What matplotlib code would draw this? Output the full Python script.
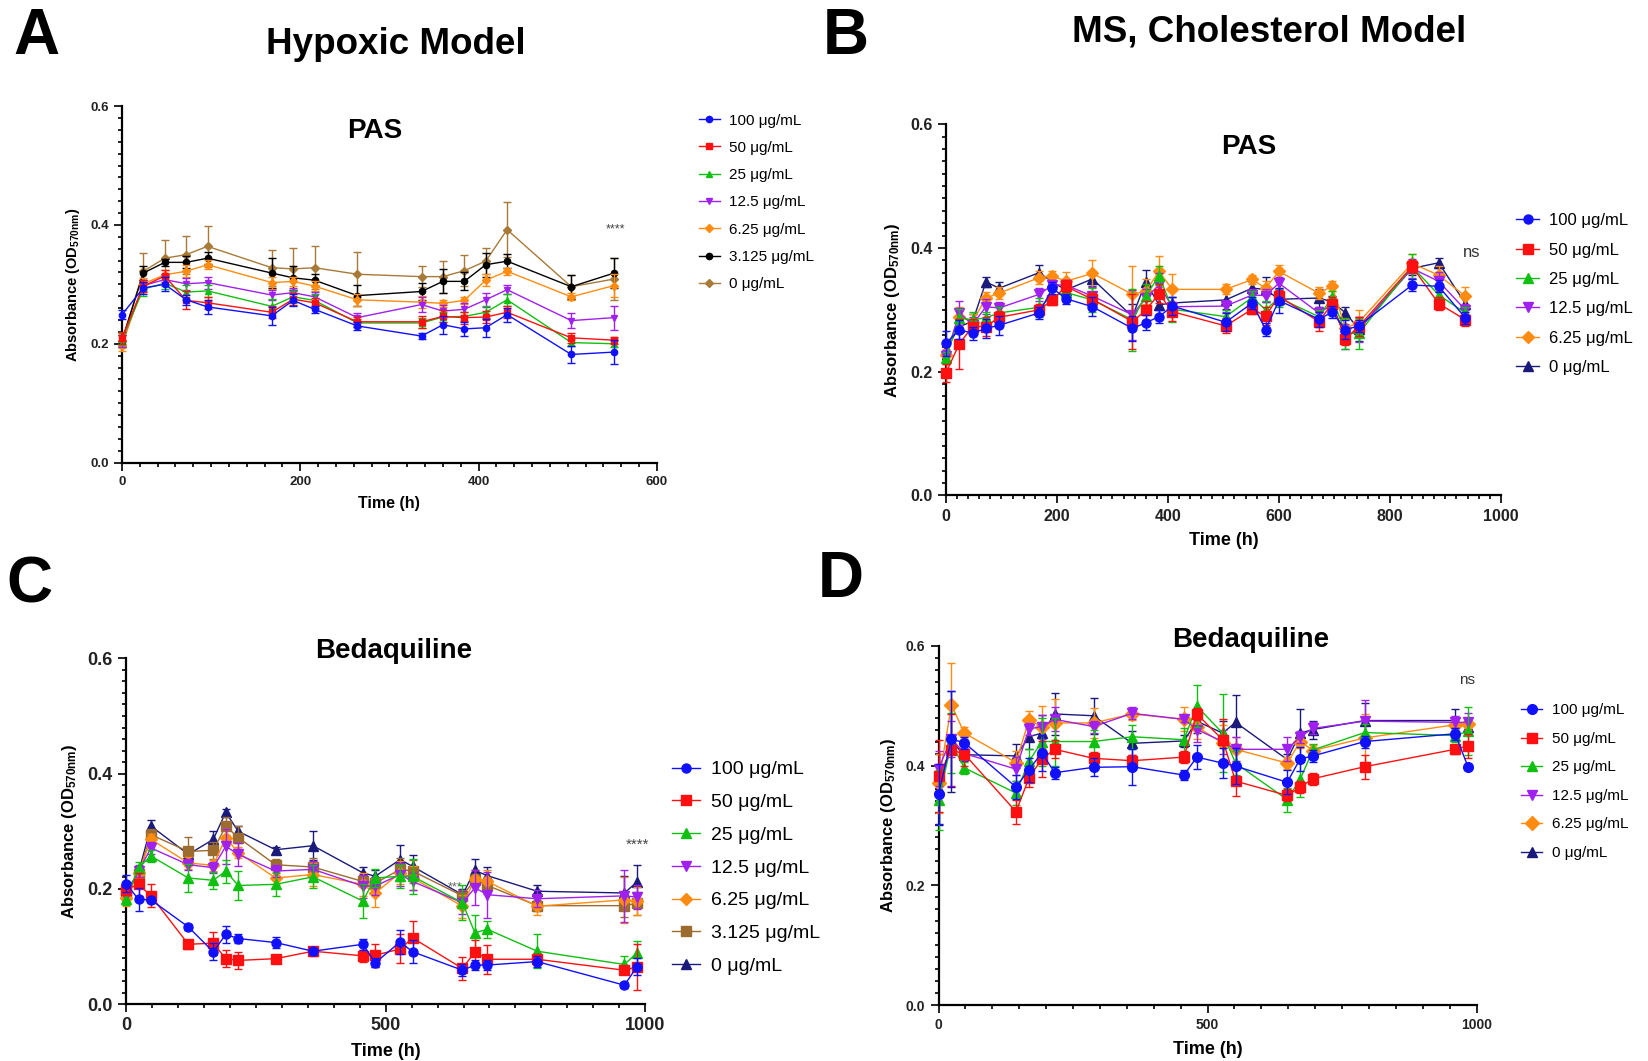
import matplotlib
matplotlib.use("Agg")
import matplotlib.pyplot as plt
from matplotlib.lines import Line2D
from matplotlib.ticker import MultipleLocator

plt.rcParams["font.family"] = ["Liberation Sans", "DejaVu Sans"]
plt.rcParams["mathtext.fontset"] = "custom"
plt.rcParams["mathtext.rm"] = "Liberation Sans:bold"
plt.rcParams["mathtext.default"] = "rm"

# ---- Panel A: hypoxic model, PAS ----
a_time = [0, 24, 48, 72, 96, 168, 192, 216, 264, 336, 360, 384, 408, 432, 504, 552]
a_100 = [0.249, 0.294, 0.300, 0.274, 0.262, 0.247, 0.273, 0.258, 0.230, 0.213, 0.232, 0.225, 0.227, 0.249, 0.182, 0.186]
a_50 = [0.210, 0.297, 0.314, 0.273, 0.269, 0.253, 0.275, 0.269, 0.237, 0.237, 0.246, 0.244, 0.245, 0.253, 0.210, 0.206]
a_25 = [0.208, 0.292, 0.302, 0.287, 0.289, 0.263, 0.279, 0.273, 0.235, 0.235, 0.245, 0.246, 0.253, 0.274, 0.202, 0.200]
a_12_5 = [0.205, 0.298, 0.308, 0.301, 0.303, 0.282, 0.286, 0.279, 0.244, 0.266, 0.255, 0.258, 0.274, 0.291, 0.239, 0.244]
a_6_25 = [0.197, 0.301, 0.316, 0.322, 0.333, 0.303, 0.305, 0.297, 0.274, 0.270, 0.268, 0.273, 0.307, 0.322, 0.279, 0.298]
a_3_125 = [0.205, 0.319, 0.337, 0.337, 0.344, 0.319, 0.311, 0.307, 0.281, 0.288, 0.305, 0.305, 0.333, 0.339, 0.296, 0.319]
a_0 = [0.205, 0.322, 0.344, 0.350, 0.364, 0.328, 0.326, 0.328, 0.317, 0.313, 0.313, 0.323, 0.339, 0.392, 0.296, 0.309]
a_100_e = [0.008, 0.01, 0.012, 0.008, 0.012, 0.015, 0.01, 0.006, 0.006, 0.005, 0.015, 0.012, 0.015, 0.012, 0.015, 0.02]
a_50_e = [0.01, 0.01, 0.01, 0.015, 0.01, 0.01, 0.01, 0.008, 0.008, 0.01, 0.01, 0.01, 0.01, 0.01, 0.008, 0.006]
a_25_e = [0.01, 0.012, 0.01, 0.012, 0.01, 0.012, 0.01, 0.01, 0.006, 0.008, 0.008, 0.008, 0.01, 0.01, 0.006, 0.006]
a_12_5_e = [0.01, 0.01, 0.01, 0.01, 0.01, 0.008, 0.008, 0.008, 0.008, 0.012, 0.01, 0.01, 0.012, 0.008, 0.012, 0.02]
a_6_25_e = [0.01, 0.01, 0.008, 0.01, 0.008, 0.01, 0.008, 0.008, 0.01, 0.01, 0.006, 0.006, 0.01, 0.006, 0.006, 0.02]
a_3_125_e = [0.01, 0.012, 0.006, 0.01, 0.01, 0.025, 0.02, 0.01, 0.018, 0.015, 0.02, 0.015, 0.02, 0.012, 0.02, 0.025]
a_0_e = [0.01, 0.03, 0.03, 0.032, 0.035, 0.03, 0.035, 0.036, 0.038, 0.018, 0.027, 0.026, 0.022, 0.046, 0.02, 0.035]

# ---- Panel B: MS cholesterol model, PAS ----
b_time = [0, 24, 48, 72, 96, 168, 192, 216, 264, 336, 360, 384, 408, 504, 552, 576, 600, 672, 696, 720, 744, 840, 888, 936]
b_100 = [0.246, 0.268, 0.262, 0.270, 0.275, 0.295, 0.335, 0.318, 0.305, 0.270, 0.279, 0.289, 0.306, 0.280, 0.311, 0.268, 0.315, 0.285, 0.296, 0.268, 0.274, 0.340, 0.338, 0.287]
b_50 = [0.198, 0.245, 0.273, 0.273, 0.288, 0.300, 0.316, 0.338, 0.317, 0.281, 0.299, 0.326, 0.297, 0.274, 0.301, 0.290, 0.322, 0.281, 0.310, 0.253, 0.273, 0.370, 0.310, 0.284]
b_25 = [0.222, 0.287, 0.284, 0.287, 0.295, 0.304, 0.322, 0.328, 0.316, 0.284, 0.322, 0.355, 0.301, 0.289, 0.320, 0.300, 0.319, 0.289, 0.320, 0.262, 0.262, 0.370, 0.324, 0.295]
b_12_5 = [0.225, 0.295, 0.276, 0.305, 0.303, 0.325, 0.340, 0.340, 0.322, 0.292, 0.319, 0.340, 0.305, 0.306, 0.324, 0.323, 0.343, 0.295, 0.308, 0.257, 0.268, 0.367, 0.346, 0.300]
b_6_25 = [0.227, 0.289, 0.281, 0.319, 0.327, 0.352, 0.355, 0.346, 0.359, 0.325, 0.330, 0.362, 0.333, 0.333, 0.349, 0.335, 0.362, 0.327, 0.338, 0.270, 0.280, 0.375, 0.356, 0.322]
b_0 = [0.235, 0.273, 0.281, 0.345, 0.335, 0.360, 0.345, 0.332, 0.350, 0.289, 0.345, 0.308, 0.311, 0.316, 0.335, 0.333, 0.317, 0.319, 0.313, 0.295, 0.269, 0.367, 0.376, 0.310]
b_100_e = [0.02, 0.015, 0.01, 0.015, 0.015, 0.01, 0.01, 0.008, 0.015, 0.02, 0.012, 0.01, 0.015, 0.015, 0.01, 0.01, 0.02, 0.012, 0.01, 0.015, 0.01, 0.01, 0.01, 0.01]
b_50_e = [0.015, 0.04, 0.012, 0.015, 0.01, 0.01, 0.008, 0.01, 0.012, 0.045, 0.015, 0.015, 0.015, 0.012, 0.008, 0.015, 0.01, 0.015, 0.01, 0.01, 0.015, 0.01, 0.01, 0.01]
b_25_e = [0.01, 0.015, 0.012, 0.01, 0.01, 0.015, 0.01, 0.01, 0.02, 0.05, 0.02, 0.015, 0.02, 0.01, 0.01, 0.015, 0.015, 0.01, 0.01, 0.025, 0.025, 0.02, 0.012, 0.01]
b_12_5_e = [0.01, 0.02, 0.012, 0.012, 0.01, 0.01, 0.008, 0.008, 0.015, 0.04, 0.015, 0.02, 0.015, 0.01, 0.01, 0.01, 0.01, 0.01, 0.01, 0.02, 0.02, 0.015, 0.015, 0.01]
b_6_25_e = [0.01, 0.015, 0.012, 0.01, 0.01, 0.01, 0.008, 0.015, 0.022, 0.045, 0.02, 0.025, 0.025, 0.008, 0.008, 0.012, 0.01, 0.01, 0.008, 0.015, 0.02, 0.015, 0.015, 0.015]
b_0_e = [0.01, 0.01, 0.012, 0.008, 0.01, 0.012, 0.01, 0.01, 0.012, 0.02, 0.02, 0.02, 0.02, 0.015, 0.01, 0.02, 0.01, 0.015, 0.01, 0.01, 0.02, 0.01, 0.008, 0.01]

# ---- Panel C: hypoxic model, bedaquiline ----
c_time = [0, 24, 48, 120, 168, 192, 216, 288, 360, 456, 480, 528, 552, 648, 672, 696, 792, 960, 984]
c_100 = [0.209, 0.182, 0.181, 0.134, 0.091, 0.121, 0.114, 0.107, 0.092, 0.104, 0.072, 0.108, 0.091, 0.059, 0.068, 0.068, 0.074, 0.033, 0.065]
c_50 = [0.199, 0.208, 0.188, 0.104, 0.106, 0.079, 0.076, 0.079, 0.092, 0.084, 0.085, 0.096, 0.115, 0.062, 0.091, 0.078, 0.078, 0.059, 0.065]
c_25 = [0.182, 0.237, 0.257, 0.219, 0.215, 0.231, 0.206, 0.208, 0.221, 0.179, 0.219, 0.222, 0.222, 0.176, 0.124, 0.130, 0.092, 0.069, 0.089]
c_12_5 = [0.188, 0.231, 0.271, 0.242, 0.237, 0.274, 0.260, 0.231, 0.234, 0.205, 0.205, 0.225, 0.213, 0.176, 0.202, 0.190, 0.183, 0.188, 0.186]
c_6_25 = [0.185, 0.228, 0.286, 0.245, 0.241, 0.289, 0.263, 0.219, 0.225, 0.208, 0.193, 0.228, 0.219, 0.170, 0.218, 0.213, 0.170, 0.181, 0.179]
c_3_125 = [0.193, 0.226, 0.294, 0.265, 0.267, 0.309, 0.289, 0.242, 0.238, 0.213, 0.210, 0.234, 0.231, 0.188, 0.216, 0.206, 0.171, 0.171, 0.175]
c_0 = [0.196, 0.228, 0.309, 0.260, 0.286, 0.333, 0.300, 0.268, 0.275, 0.228, 0.222, 0.251, 0.239, 0.190, 0.232, 0.223, 0.196, 0.193, 0.212]
c_100_e = [0.015, 0.02, 0.005, 0.005, 0.015, 0.015, 0.008, 0.01, 0.006, 0.01, 0.008, 0.02, 0.02, 0.01, 0.008, 0.008, 0.01, 0.005, 0.015]
c_50_e = [0.01, 0.02, 0.02, 0.008, 0.02, 0.015, 0.015, 0.005, 0.008, 0.01, 0.02, 0.025, 0.03, 0.02, 0.02, 0.025, 0.01, 0.005, 0.04]
c_25_e = [0.01, 0.01, 0.01, 0.025, 0.015, 0.02, 0.025, 0.02, 0.02, 0.03, 0.015, 0.02, 0.03, 0.03, 0.03, 0.015, 0.03, 0.015, 0.02]
c_12_5_e = [0.01, 0.01, 0.01, 0.01, 0.01, 0.03, 0.02, 0.01, 0.015, 0.02, 0.015, 0.02, 0.015, 0.02, 0.03, 0.04, 0.015, 0.045, 0.02]
c_6_25_e = [0.015, 0.01, 0.01, 0.01, 0.01, 0.015, 0.01, 0.01, 0.02, 0.02, 0.025, 0.02, 0.02, 0.02, 0.015, 0.02, 0.015, 0.04, 0.025]
c_3_125_e = [0.01, 0.01, 0.01, 0.025, 0.015, 0.015, 0.02, 0.01, 0.015, 0.01, 0.01, 0.02, 0.02, 0.01, 0.01, 0.015, 0.01, 0.02, 0.02]
c_0_e = [0.01, 0.01, 0.01, 0.01, 0.015, 0.005, 0.01, 0.005, 0.025, 0.01, 0.01, 0.025, 0.02, 0.01, 0.02, 0.015, 0.01, 0.03, 0.03]

# ---- Panel D: MS cholesterol model, bedaquiline ----
d_time = [0, 24, 48, 144, 168, 192, 216, 288, 360, 456, 480, 528, 552, 648, 672, 696, 792, 960, 984]
d_100 = [0.353, 0.444, 0.438, 0.364, 0.393, 0.421, 0.388, 0.397, 0.398, 0.384, 0.414, 0.404, 0.399, 0.372, 0.411, 0.416, 0.440, 0.453, 0.398]
d_50 = [0.382, 0.426, 0.419, 0.323, 0.379, 0.411, 0.427, 0.412, 0.408, 0.414, 0.486, 0.443, 0.374, 0.350, 0.364, 0.378, 0.398, 0.427, 0.433]
d_25 = [0.343, 0.437, 0.396, 0.354, 0.407, 0.440, 0.440, 0.440, 0.448, 0.443, 0.499, 0.454, 0.404, 0.343, 0.377, 0.426, 0.455, 0.450, 0.457]
d_12_5 = [0.395, 0.445, 0.420, 0.394, 0.461, 0.465, 0.477, 0.465, 0.487, 0.477, 0.460, 0.440, 0.427, 0.427, 0.448, 0.462, 0.474, 0.472, 0.472]
d_6_25 = [0.370, 0.501, 0.454, 0.405, 0.476, 0.465, 0.471, 0.471, 0.486, 0.477, 0.465, 0.437, 0.427, 0.404, 0.440, 0.425, 0.446, 0.468, 0.470]
d_0 = [0.360, 0.440, 0.418, 0.416, 0.448, 0.454, 0.486, 0.483, 0.437, 0.441, 0.474, 0.454, 0.472, 0.410, 0.454, 0.460, 0.475, 0.475, 0.465]
d_100_e = [0.05, 0.08, 0.01, 0.02, 0.02, 0.03, 0.01, 0.015, 0.03, 0.008, 0.02, 0.025, 0.03, 0.02, 0.02, 0.01, 0.01, 0.01, 0.005]
d_50_e = [0.06, 0.06, 0.02, 0.02, 0.015, 0.03, 0.015, 0.01, 0.01, 0.01, 0.01, 0.035, 0.025, 0.01, 0.01, 0.01, 0.02, 0.008, 0.02]
d_25_e = [0.05, 0.05, 0.01, 0.02, 0.02, 0.04, 0.04, 0.02, 0.02, 0.02, 0.035, 0.065, 0.02, 0.02, 0.03, 0.01, 0.015, 0.01, 0.04]
d_12_5_e = [0.03, 0.03, 0.01, 0.02, 0.01, 0.02, 0.02, 0.01, 0.01, 0.005, 0.02, 0.02, 0.02, 0.02, 0.01, 0.01, 0.035, 0.01, 0.015]
d_6_25_e = [0.05, 0.07, 0.01, 0.02, 0.015, 0.035, 0.04, 0.025, 0.01, 0.02, 0.02, 0.03, 0.02, 0.01, 0.01, 0.01, 0.04, 0.01, 0.01]
d_0_e = [0.06, 0.085, 0.01, 0.02, 0.02, 0.03, 0.035, 0.03, 0.02, 0.01, 0.02, 0.02, 0.045, 0.01, 0.04, 0.015, 0.03, 0.02, 0.01]

labels_7 = ["100 μg/mL", "50 μg/mL", "25 μg/mL", "12.5 μg/mL", "6.25 μg/mL", "3.125 μg/mL", "0 μg/mL"]
labels_6 = ["100 μg/mL", "50 μg/mL", "25 μg/mL", "12.5 μg/mL", "6.25 μg/mL", "0 μg/mL"]

BLUE, RED, GREEN, VIOLET, ORANGE = "#1010FF", "#FF1010", "#10C010", "#A020F0", "#FF8C10"
NAVY = "#1A1A7A"


def panel(ax, t, ys, es, colors, markers, labels, ms, xmax, xmajor, xminor,
          tick_fs, lab_fs, leg_fs, leg_pos, leg_sp):
    handles = []
    for i in range(len(ys)):
        ax.errorbar(t, ys[i], yerr=es[i], color=colors[i], marker=markers[i],
                    ms=ms, lw=1.0, elinewidth=1.0, capsize=3, capthick=1.0,
                    zorder=10 - i, clip_on=False)
        handles.append(Line2D([], [], color=colors[i], marker=markers[i],
                              ms=ms, lw=1.0, label=labels[i]))
    ax.set_xlim(0, xmax)
    ax.set_ylim(0, 0.6)
    ax.xaxis.set_major_locator(MultipleLocator(xmajor))
    ax.xaxis.set_minor_locator(MultipleLocator(xminor))
    ax.yaxis.set_major_locator(MultipleLocator(0.2))
    ax.yaxis.set_minor_locator(MultipleLocator(0.02))
    ax.yaxis.set_major_formatter(plt.FuncFormatter(lambda v, p: f"{v:.1f}"))
    for s in ["top", "right"]:
        ax.spines[s].set_visible(False)
    for s in ["left", "bottom"]:
        ax.spines[s].set_linewidth(1.6)
    ax.tick_params(which="major", length=6, width=1.4, labelsize=tick_fs, colors="#222222")
    ax.tick_params(which="minor", length=3, width=1.2)
    for lab in ax.get_xticklabels() + ax.get_yticklabels():
        lab.set_fontweight("bold")
    ax.set_xlabel("Time (h)", fontsize=lab_fs, fontweight="bold", labelpad=6)
    ax.set_ylabel("Absorbance (OD$_{570nm}$)", fontsize=lab_fs - 1, fontweight="bold", labelpad=6)
    ax.figure.legend(handles=handles, loc="upper left", bbox_to_anchor=leg_pos,
                     frameon=False, fontsize=leg_fs, labelspacing=leg_sp,
                     handlelength=1.4, handletextpad=0.6, borderpad=0, borderaxespad=0)


fig = plt.figure(figsize=(16.48, 10.61), dpi=100)

axA = fig.add_axes([0.074, 0.564, 0.3246, 0.336])
panel(axA, a_time, [a_100, a_50, a_25, a_12_5, a_6_25, a_3_125, a_0],
      [a_100_e, a_50_e, a_25_e, a_12_5_e, a_6_25_e, a_3_125_e, a_0_e],
      [BLUE, RED, GREEN, VIOLET, ORANGE, "#000000", "#A87A38"],
      ["o", "s", "^", "v", "D", "o", "D"], labels_7, 4.5, 600, 200, 20,
      9.5, 11.5, 11, (0.424, 0.893), 0.87)
axA.text(554, 0.393, "****", fontsize=9, color="#444444", ha="center", va="center")

axB = fig.add_axes([0.574, 0.533, 0.3367, 0.350])
panel(axB, b_time, [b_100, b_50, b_25, b_12_5, b_6_25, b_0],
      [b_100_e, b_50_e, b_25_e, b_12_5_e, b_6_25_e, b_0_e],
      [BLUE, RED, GREEN, VIOLET, ORANGE, NAVY],
      ["o", "s", "^", "v", "D", "^"], labels_6, 6.5, 1000, 200, 20,
      11.5, 13, 12, (0.920, 0.799), 0.86)
axB.text(947, 0.393, "ns", fontsize=12, color="#333333", ha="center", va="center")

axC = fig.add_axes([0.0765, 0.0535, 0.315, 0.326])
panel(axC, c_time, [c_100, c_50, c_25, c_12_5, c_6_25, c_3_125, c_0],
      [c_100_e, c_50_e, c_25_e, c_12_5_e, c_6_25_e, c_3_125_e, c_0_e],
      [BLUE, RED, GREEN, VIOLET, ORANGE, "#9C6B30", NAVY],
      ["o", "s", "^", "v", "D", "s", "^"], labels_7, 6.5, 1000, 500, 50,
      13, 13, 14, (0.408, 0.283), 0.78)
axC.text(986, 0.277, "****", fontsize=11, color="#444444", ha="center", va="center")
axC.text(634, 0.202, "***", fontsize=9, color="#666666", ha="center", va="center", zorder=0)

axD = fig.add_axes([0.5695, 0.0525, 0.3265, 0.339])
panel(axD, d_time, [d_100, d_50, d_25, d_12_5, d_6_25, d_0],
      [d_100_e, d_50_e, d_25_e, d_12_5_e, d_6_25_e, d_0_e],
      [BLUE, RED, GREEN, VIOLET, ORANGE, NAVY],
      ["o", "s", "^", "v", "D", "^"], labels_6, 7, 1000, 500, 50,
      10, 13, 11, (0.923, 0.337), 0.95)
axD.text(982, 0.542, "ns", fontsize=11, color="#333333", ha="center", va="center")

# panel letters, model titles and drug titles
fig.text(0.022, 0.965, "A", fontsize=46, fontweight="bold", ha="center", va="center")
fig.text(0.513, 0.965, "B", fontsize=46, fontweight="bold", ha="center", va="center")
fig.text(0.018, 0.448, "C", fontsize=46, fontweight="bold", ha="center", va="center")
fig.text(0.510, 0.453, "D", fontsize=46, fontweight="bold", ha="center", va="center")
fig.text(0.240, 0.958, "Hypoxic Model", fontsize=26.5, fontweight="bold", ha="center", va="center")
fig.text(0.770, 0.970, "MS, Cholesterol Model", fontsize=26.5, fontweight="bold", ha="center", va="center")
fig.text(0.2277, 0.877, "PAS", fontsize=20, fontweight="bold", ha="center", va="center")
fig.text(0.7577, 0.861, "PAS", fontsize=20, fontweight="bold", ha="center", va="center")
fig.text(0.239, 0.3865, "Bedaquiline", fontsize=20, fontweight="bold", ha="center", va="center")
fig.text(0.759, 0.3964, "Bedaquiline", fontsize=20, fontweight="bold", ha="center", va="center")

fig.savefig("out.png", dpi=100)
